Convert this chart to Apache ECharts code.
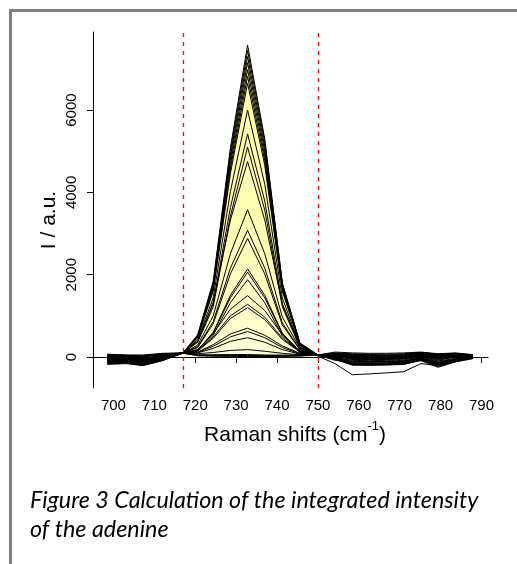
<!DOCTYPE html>
<html>
<head>
<meta charset="utf-8">
<script src="https://cdn.jsdelivr.net/npm/echarts@6/dist/echarts.min.js"></script>
<style>
  html, body { margin: 0; padding: 0; background: #fff; }
  #chart { width: 517px; height: 564px; }
</style>
</head>
<body>
<div id="chart"></div>
<script>
// Raman shift positions of the sampled points (cm-1)
const shifts = [698.5, 703.1, 707.2, 712.0, 717.0, 720.6, 724.4, 728.6, 732.8, 737.0, 741.3,
                745.6, 750.0, 754.2, 758.4, 762.6, 766.8, 771.0, 775.2, 779.4, 783.6, 787.9];

// integration window of the adenine band
const bandLimits = [717.0, 750.0];

// tick labels
const xTicks = [700, 710, 720, 730, 740, 750, 760, 770, 780, 790];
const yTicks = [0, 2000, 4000, 6000];

// baseline-corrected spectra, intensity in a.u.
const spec01 = [-120, -100, -150, -40, 100, 540, 1840, 5080, 7580, 5300, 1800, 340, 50, -60, -190, -185, -180, -175, -60, -200, -90, -20];
const spec02 = [-80, -70, -120, -20, 100, 520, 1790, 4990, 7450, 5220, 1790, 340, 50, -40, -180, -190, -185, -170, -50, -180, -80, -10];
const spec03 = [-150, -130, -190, -60, 95, 510, 1750, 4890, 7300, 5110, 1750, 330, 20, -160, -430, -410, -385, -357, -160, -210, -115, -20];
const spec04 = [-40, -30, -80, 10, 95, 500, 1720, 4790, 7150, 5000, 1720, 320, 45, -20, -170, -175, -170, -160, -40, -160, -70, 0];
const spec05 = [-100, -90, -160, -50, 100, 490, 1680, 4680, 6980, 4890, 1680, 310, 50, -50, -195, -200, -195, -180, -70, -230, -100, -30];
const spec06 = [-60, -50, -100, -10, 90, 480, 1640, 4570, 6820, 4770, 1640, 310, 40, 10, -150, -160, -150, -140, -20, -140, -50, 10];
const spec07 = [-180, -160, -210, -90, 100, 470, 1600, 4460, 6650, 4660, 1600, 300, 50, -30, -185, -190, -180, -170, -90, -250, -120, -40];
const spec08 = [20, 10, -30, 40, 95, 420, 1440, 4020, 6000, 4200, 1440, 270, 45, 40, -20, -30, -40, -30, 40, -20, 20, 20];
const spec09 = [-70, -60, -110, -30, 100, 380, 1300, 3630, 5420, 3790, 1300, 240, 50, 30, -60, -70, -60, -50, 20, -80, 0, 10];
const spec10 = [-20, -20, -60, 20, 90, 360, 1220, 3420, 5100, 3570, 1220, 230, 40, 60, 20, 10, 0, 10, 80, 20, 60, 30];
const spec11 = [-130, -110, -170, -70, 100, 380, 1330, 3330, 4750, 3330, 1280, 290, 50, 0, -120, -130, -120, -110, -30, -150, -60, -10];
const spec12 = [40, 30, 0, 60, 95, 290, 1000, 2510, 3580, 2510, 970, 215, 45, 80, 50, 40, 40, 50, 100, 60, 80, 40];
const spec13 = [-50, -40, -90, 0, 100, 250, 860, 2160, 3080, 2160, 830, 185, 50, 20, -40, -50, -40, -30, 30, -40, 10, 0];
const spec14 = [10, 0, -40, 30, 90, 230, 810, 2020, 2880, 2020, 780, 175, 45, 50, 10, 0, -10, 0, 60, 0, 40, 20];
const spec15 = [-90, -80, -140, -40, 100, 170, 600, 1500, 2140, 1500, 580, 130, 50, -10, -80, -90, -80, -70, 0, -100, -30, -10];
const spec16 = [60, 40, 30, 80, 95, 165, 580, 1440, 2060, 1440, 560, 125, 45, 100, 80, 70, 70, 80, 110, 70, 90, 50];
const spec17 = [-30, -20, -70, 10, 100, 150, 530, 1320, 1880, 1320, 510, 115, 50, 30, -10, -20, -20, -10, 50, -10, 30, 10];
const spec18 = [-110, -100, -150, -60, 100, 180, 570, 1160, 1490, 1130, 540, 150, 50, -30, -100, -110, -100, -90, -20, -120, -50, -20];
const spec19 = [0, -10, -50, 30, 95, 155, 490, 1000, 1280, 970, 460, 130, 45, 60, 30, 20, 20, 30, 70, 30, 50, 30];
const spec20 = [-60, -50, -100, -20, 100, 145, 455, 935, 1200, 910, 430, 120, 50, 10, -50, -60, -50, -40, 10, -60, 0, 0];
const spec21 = [30, 20, 10, 50, 100, 120, 300, 560, 700, 530, 270, 90, 50, 90, 60, 60, 50, 60, 100, 60, 80, 40];
const spec22 = [-140, -120, -180, -80, 95, 110, 260, 490, 620, 470, 230, 80, 45, -80, -140, -150, -140, -130, -50, -170, -80, -30];
const spec23 = [-20, -30, -60, 20, 100, 100, 210, 380, 470, 360, 180, 70, 50, 40, 0, -10, 0, 10, 60, 10, 40, 20];
const spec24 = [70, 50, 50, 90, 100, 80, 110, 160, 180, 140, 90, 55, 50, 120, 100, 90, 90, 100, 120, 80, 100, 60];
const spec25 = [-90, -70, -120, -40, 95, 50, 55, 60, 60, 50, 45, 40, 45, -40, -110, -120, -110, -100, -30, -130, -60, -20];
const spec26 = [-40, -40, -70, 0, 90, 40, 30, 25, 20, 20, 25, 30, 45, 20, -30, -40, -30, -20, 40, -30, 20, 10];
const spec27 = [50, 40, 20, 70, 100, 50, 40, 40, 35, 35, 40, 45, 50, 70, 40, 30, 30, 40, 90, 40, 70, 30];
const spec28 = [-160, -150, -200, -80, 95, 30, 20, 15, 10, 10, 15, 25, 45, -60, -170, -180, -170, -160, -70, -200, -100, -30];

// drawn from the strongest to the weakest band
const spectra = [spec01, spec02, spec03, spec04, spec05, spec06, spec07, spec08, spec09, spec10,
                 spec11, spec12, spec13, spec14, spec15, spec16, spec17, spec18, spec19, spec20,
                 spec21, spec22, spec23, spec24, spec25, spec26, spec27, spec28];

const chart = echarts.init(document.getElementById('chart'), null, { renderer: 'canvas' });

const FONT = "'Liberation Sans', Arial, sans-serif";
const CAPTION_FONT = "Lato, sans-serif";
const series = [];
const n = spectra.length;

// yellow fills over the integration window, paler for weaker bands
spectra.forEach((vals, i) => {
  const t = i / (n - 1);
  const b = Math.round(150 + t * 80);
  series.push({
    type: 'line',
    name: 'area' + (i + 1),
    data: shifts.map((x, k) => [x, vals[k]])
                .filter(p => p[0] >= bandLimits[0] && p[0] <= bandLimits[1]),
    symbol: 'none',
    silent: true,
    lineStyle: { width: 0 },
    areaStyle: { color: 'rgb(255,255,' + b + ')', opacity: 1, origin: 0 },
    z: 2,
    animation: false
  });
});

// spectrum outlines
spectra.forEach((vals, i) => {
  series.push({
    type: 'line',
    name: 'spectrum' + (i + 1),
    data: shifts.map((x, k) => [x, vals[k]]),
    symbol: 'none',
    silent: true,
    lineStyle: { color: '#000', width: 1 },
    z: 3,
    animation: false
  });
});

// zero line and integration limits
series.push({
  type: 'line',
  name: 'guides',
  data: [],
  z: 5,
  animation: false,
  markLine: {
    silent: true,
    symbol: ['none', 'none'],
    label: { show: false },
    animation: false,
    data: [
      { yAxis: 0, lineStyle: { color: '#000', width: 1, type: [3, 3] } },
      { xAxis: bandLimits[0], lineStyle: { color: '#ff0000', width: 1.3, type: [4, 5] } },
      { xAxis: bandLimits[1], lineStyle: { color: '#ff0000', width: 1.3, type: [4, 5] } }
    ]
  }
});

const option = {
  backgroundColor: '#fff',
  animation: false,
  grid: { left: 93, right: 29, top: 32, bottom: 176, containLabel: false },
  xAxis: {
    type: 'value',
    min: 695.0,
    max: 791.6,
    axisLine: { show: true, lineStyle: { color: '#000', width: 1 } },
    axisTick: { show: true, length: 6, customValues: xTicks, lineStyle: { color: '#000' } },
    axisLabel: { customValues: xTicks, color: '#000', fontSize: 15, fontFamily: FONT, margin: 10,
                 formatter: v => String(v) },
    splitLine: { show: false }
  },
  yAxis: {
    type: 'value',
    min: -753,
    max: 7898,
    axisLine: { show: true, onZero: false, lineStyle: { color: '#000', width: 1 } },
    axisTick: { show: true, length: 6, customValues: yTicks, lineStyle: { color: '#000' } },
    axisLabel: { customValues: yTicks, color: '#000', fontSize: 15, fontFamily: FONT, rotate: 90, margin: 14,
                 formatter: v => String(v) },
    splitLine: { show: false }
  },
  series: series,
  graphic: [
    {
      type: 'rect',
      shape: { x: 10.5, y: 10.5, width: 700, height: 700 },
      style: { fill: 'none', stroke: '#808080', lineWidth: 3 },
      silent: true
    },
    {
      type: 'text',
      x: 49, y: 220,
      rotation: Math.PI / 2,
      style: {
        text: 'I / a.u.',
        fontSize: 21, fontFamily: FONT, fill: '#000',
        align: 'center', verticalAlign: 'middle'
      }
    },
    {
      type: 'text',
      x: 295, y: 433,
      style: {
        text: '{n|Raman shifts (cm}{s|-1}{n|)}',
        align: 'center', verticalAlign: 'middle',
        rich: {
          n: { fontSize: 21, fontFamily: FONT, fill: '#000', lineHeight: 26, verticalAlign: 'bottom' },
          s: { fontSize: 13, fontFamily: FONT, fill: '#000', lineHeight: 16, verticalAlign: 'top' }
        }
      }
    },
    {
      type: 'text',
      x: 30, y: 500,
      style: {
        text: 'Figure 3 Calculation of the integrated intensity',
        fontSize: 23.3, fontStyle: 'italic', fontFamily: CAPTION_FONT, fill: '#000',
        align: 'left', verticalAlign: 'middle'
      }
    },
    {
      type: 'text',
      x: 30, y: 529,
      style: {
        text: 'of the adenine',
        fontSize: 23.3, fontStyle: 'italic', fontFamily: CAPTION_FONT, fill: '#000',
        align: 'left', verticalAlign: 'middle'
      }
    }
  ]
};

chart.setOption(option);
</script>
</body>
</html>
